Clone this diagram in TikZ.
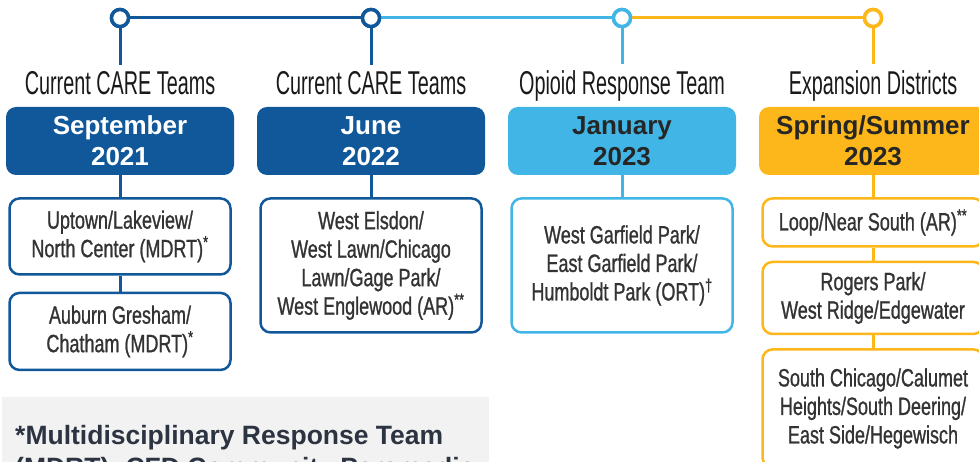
\documentclass[tikz,border=0pt]{standalone}
\usepackage{fontspec}
\setmainfont{Liberation Sans}
\newfontfamily\titlefont[FakeStretch=0.6]{Liberation Sans}
\newfontfamily\areafont[FakeStretch=0.72,FakeBold=0.9]{Liberation Sans}
\usetikzlibrary{positioning}
\definecolor{careblue}{HTML}{11589A}
\definecolor{ortblue}{HTML}{41B6E6}
\definecolor{expgold}{HTML}{FDB71A}
\definecolor{areagray}{HTML}{333333}
\definecolor{notegray}{HTML}{F2F2F2}
\definecolor{notetext}{HTML}{2D3441}

\begin{document}
\begin{tikzpicture}
        [x=1pt,y=-1pt,
        dot/.style={circle,draw,line width=3.5pt,fill=white,minimum size=17pt,inner sep=0pt},
        ttl/.style={font=\titlefont\fontsize{33}{33}\selectfont,text=black!90,anchor=base,inner xsep=0pt,inner ysep=7pt},
        datebox/.style={rounded corners=10pt,minimum width=228pt,minimum height=68pt,inner sep=0pt,
                        align=center,font=\bfseries\fontsize{26}{31}\selectfont},
        area/.style={rounded corners=10pt,draw,line width=2.5pt,fill=white,minimum width=221pt,inner sep=0pt,
                     align=center,text=areagray,font=\areafont\fontsize{25}{28.5}\selectfont},
        stem/.style={line width=3pt}]
        \useasboundingbox (0,0) rectangle (979,462);
        \clip (0,0) rectangle (979,462);
        % timeline dots
        \node[dot,draw=careblue](d1) at (120,18){};
        \node[dot,draw=careblue](d2) at (371,18){};
        \node[dot,draw=ortblue](d3) at (622,18){};
        \node[dot,draw=expgold](d4) at (873,18){};
        % column titles
        \node[ttl](t1) at (120,95){Current CARE Teams};
        \node[ttl](t2) at (371,95){Current CARE Teams};
        \node[ttl](t3) at (622,95){Opioid Response Team};
        \node[ttl](t4) at (873,95){Expansion Districts};
        % date boxes
        \node[datebox,fill=careblue,text=white](h1) at (120,141){September\\2021};
        \node[datebox,fill=careblue,text=white](h2) at (371,141){June\\2022};
        \node[datebox,fill=ortblue,text=black!85](h3) at (622,141){January\\2023};
        \node[datebox,fill=expgold,text=black!85](h4) at (873,141){Spring/Summer\\2023};
        % areas
        \node[area,draw=careblue,minimum height=76pt](a1)[below=22pt of h1]
            {Uptown/Lakeview/\\North Center (MDRT)\textsuperscript{*}};
        \node[area,draw=careblue,minimum height=77pt](a2)[below=16pt of a1]
            {Auburn Gresham/\\Chatham (MDRT)\textsuperscript{*}};
        \node[area,draw=careblue,minimum height=134pt](b1)[below=22pt of h2]
            {West Elsdon/\\West Lawn/Chicago\\Lawn/Gage Park/\\West Englewood (AR)\textsuperscript{**}};
        \node[area,draw=ortblue,minimum height=134pt](c1)[below=22pt of h3]
            {West Garfield Park/\\East Garfield Park/\\Humboldt Park (ORT)\textsuperscript{\textdagger}};
        \node[area,draw=expgold,minimum height=48pt](e1)[below=22pt of h4]
            {Loop/Near South (AR)\textsuperscript{**}};
        \node[area,draw=expgold,minimum height=72pt](e2)[below=13pt of e1]
            {Rogers Park/\\West Ridge/Edgewater};
        \node[area,draw=expgold,minimum height=118pt](e3)[below=13pt of e2]
            {South Chicago/Calumet\\Heights/South Deering/\\East Side/Hegewisch};
        % connectors
        \path[stem,careblue] (d1) edge (d2)
                             (d1) edge (t1)
                             (d2) edge (t2)
                             (h1) edge (a1)
                             (a1) edge (a2)
                             (h2) edge (b1);
        \path[stem,ortblue]  (d2) edge (d3)
                             (d3) edge (t3)
                             (h3) edge (c1);
        \path[stem,expgold]  (d3) edge (d4)
                             (d4) edge (t4)
                             (h4) edge (e1)
                             (e1) edge (e2)
                             (e2) edge (e3);
        % redraw dots on top of the line
        \foreach \d/\c in {d1/careblue,d2/careblue,d3/ortblue,d4/expgold}
            \node[dot,draw=\c] at (\d){};
        % footnote
        \node[fill=notegray,minimum width=487pt,minimum height=80pt,anchor=north west,inner sep=0pt](nb) at (2,397){};
        \node[anchor=base west,inner sep=0pt,text=notetext,font=\bfseries\fontsize{26.5}{31}\selectfont](n1) at (15,444)
            {*Multidisciplinary Response Team};
        \node[anchor=base west,inner sep=0pt,text=notetext,font=\bfseries\fontsize{26.5}{31}\selectfont](n2) at (15,476)
            {(MDRT): CFD Community Paramedic};
    \end{tikzpicture}
\end{document}
